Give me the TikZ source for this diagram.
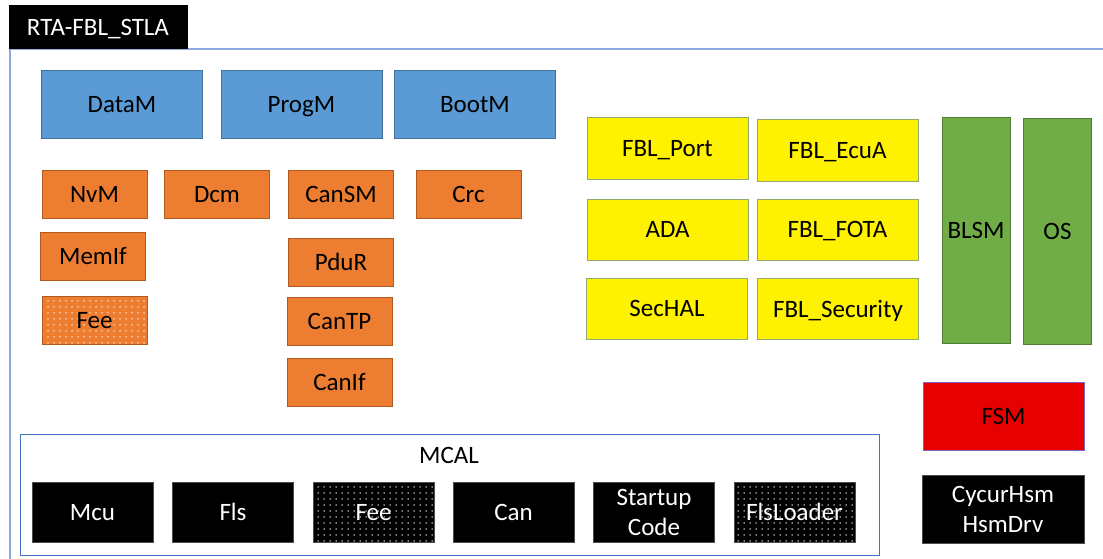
\documentclass[tikz,border=0pt]{standalone}
\usepackage{fontspec}
\setmainfont{Carlito}
\usetikzlibrary{patterns.meta}

\definecolor{frameblue}{HTML}{8EA9DB}
\definecolor{mcalblue}{HTML}{4472C4}
\definecolor{blueF}{HTML}{5B9BD5}
\definecolor{blueD}{HTML}{41719C}
\definecolor{orangeF}{HTML}{ED7D31}
\definecolor{orangeD}{HTML}{AE5A21}
\definecolor{yellowD}{HTML}{8FA86B}
\definecolor{greenF}{HTML}{70AD47}
\definecolor{greenD}{HTML}{507E32}
\definecolor{redF}{HTML}{E60000}
\definecolor{redD}{HTML}{8064C8}

\tikzset{
  box/.style={draw, rectangle, inner sep=0pt, line width=1pt, align=center,
    font=\fontsize{25}{30}\selectfont},
  oneline/.style={text height=16pt, text depth=0pt},
  bluebox/.style={box, oneline, fill=blueF, draw=blueD, minimum width=161pt, minimum height=68pt},
  orangebox/.style={box, oneline, fill=orangeF, draw=orangeD, minimum width=105pt, minimum height=48pt},
  yellowbox/.style={box, oneline, fill=yellow, draw=yellowD, minimum width=161pt, minimum height=61pt},
  greenbox/.style={box, oneline, fill=greenF, draw=greenD, minimum width=68pt, minimum height=225pt},
  blackbox/.style={box, fill=black, draw=black!70, text=white, minimum width=121pt, minimum height=60pt},
  mcalbox/.style={blackbox, oneline},
  dotted box/.style={preaction={fill=#1}, pattern={Dots[distance=6pt,radius=0.75pt]}, pattern color=white}
}

\begin{document}
\begin{tikzpicture}[x=1pt,y=-1pt]
        \useasboundingbox (0,0) rectangle (1103,559);

        \draw[frameblue, line width=1.2pt] (10,559) -- (10,49) -- (1103,49);
        \node[box, oneline, fill=black, text=white, minimum width=178pt, minimum height=43pt] (title) at (98,27.5) {RTA-FBL\_STLA};

        \node[bluebox] (datam) at (122,105) {DataM};
        \node[bluebox] (progm) at (301.5,105) {ProgM};
        \node[bluebox] (bootm) at (475,105) {BootM};

        \node[orangebox] (nvm) at (94.5,194) {NvM};
        \node[orangebox] (dcm) at (217,194) {Dcm};
        \node[orangebox] (cansm) at (341,194) {CanSM};
        \node[orangebox] (crc) at (468.5,194) {Crc};
        \node[orangebox] (memif) at (93,256.5) {MemIf};
        \node[orangebox] (pdur) at (341,262) {PduR};
        \node[orangebox, dotted box=orangeF] (fee) at (94.5,320) {Fee};
        \node[orangebox] (cantp) at (339.5,321) {CanTP};
        \node[orangebox] (canif) at (339.5,382) {CanIf};

        \node[yellowbox] (fblport) at (667.5,148.5) {FBL\_Port};
        \node[yellowbox] (fblecua) at (837.5,150.5) {FBL\_EcuA};
        \node[yellowbox] (ada) at (667.5,229.5) {ADA};
        \node[yellowbox] (fblfota) at (837.5,229.5) {FBL\_FOTA};
        \node[yellowbox] (sechal) at (667,308.5) {SecHAL};
        \node[yellowbox] (fblsec) at (838,309) {FBL\_Security};

        \node[greenbox] (blsm) at (976,230.5) {BLSM};
        \node[greenbox] (os) at (1057.5,231.5) {OS};

        \node[box, oneline, fill=redF, draw=redD, minimum width=161pt, minimum height=68pt] (fsm) at (1003.5,416) {FSM};
        \node[blackbox, minimum width=162pt, minimum height=68pt] (hsm) at (1003,509) {CycurHsm\\HsmDrv};

        \node[draw=mcalblue, line width=1pt, minimum width=859pt, minimum height=121pt] (mcal) at (449.5,494.5) {};
        \node[font=\fontsize{25}{30}\selectfont] (mcaltitle) at (449,455) {MCAL};
        \node[mcalbox] (mcu) at (92.5,512) {Mcu};
        \node[mcalbox] (fls) at (233,512) {Fls};
        \node[mcalbox, dotted box=black] (mfee) at (373.5,512) {Fee};
        \node[mcalbox] (can) at (513.5,512) {Can};
        \node[blackbox] (startup) at (654,512) {Startup\\Code};
        \node[mcalbox, dotted box=black] (flsloader) at (794.5,512) {FlsLoader};

        \end{tikzpicture}
\end{document}
